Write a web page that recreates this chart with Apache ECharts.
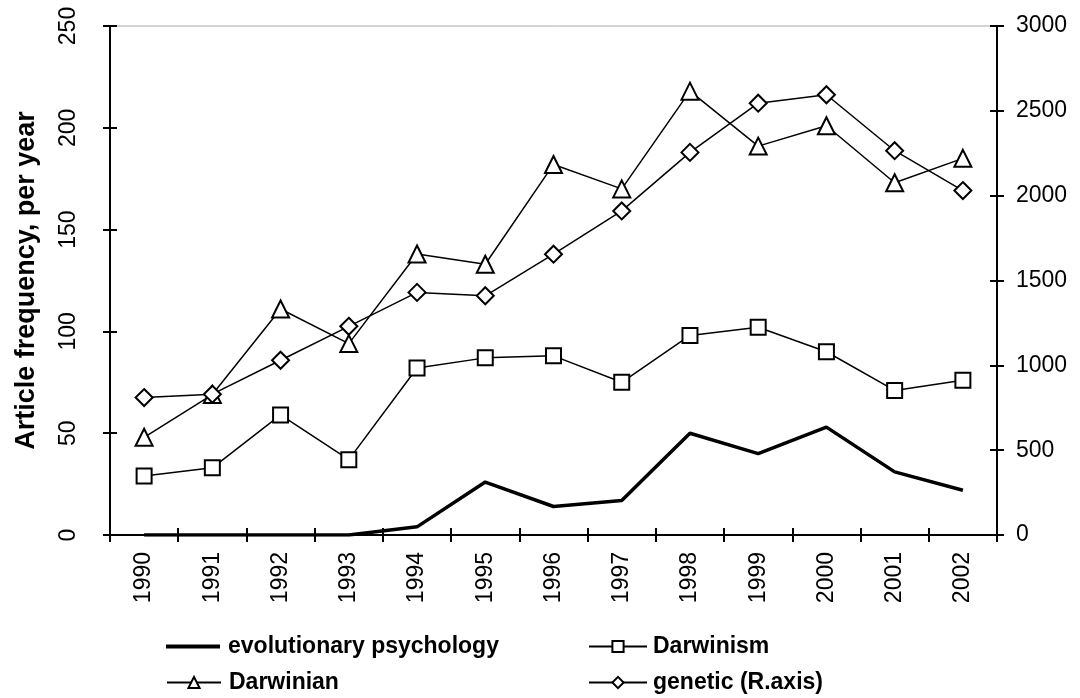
<!DOCTYPE html>
<html>
<head>
<meta charset="utf-8">
<script src="https://cdn.jsdelivr.net/npm/echarts@6/dist/echarts.min.js"></script>
<style>
html,body{margin:0;padding:0;background:#fff;}
#chart{width:1080px;height:698px;}
</style>
</head>
<body>
<div id="chart"></div>
<script>
const years = ['1990','1991','1992','1993','1994','1995','1996','1997','1998','1999','2000','2001','2002'];
const evoPsych = [0, 0, 0, 0, 4, 26, 14, 17, 50, 40, 53, 31, 22];
const darwinism = [29, 33, 59, 37, 82, 87, 88, 75, 98, 102, 90, 71, 76];
const darwinian = [48, 69, 111, 94, 138, 133, 182, 170, 218, 191, 201, 173, 185];
const genetic = [810, 830, 1030, 1230, 1430, 1410, 1655, 1910, 2255, 2545, 2595, 2265, 2030];
const leftTicks = [0, 50, 100, 150, 200, 250];
const rightTicks = [0, 500, 1000, 1500, 2000, 2500, 3000];

const FONT = '"Liberation Sans", Arial, sans-serif';
const LABEL_SIZE = 23;
const chart = echarts.init(document.getElementById('chart'), null, {renderer: 'canvas'});

const axisLine = {show: true, onZero: false, lineStyle: {color: '#000', width: 2}};
const tickOut = {show: true, length: 7, inside: false, lineStyle: {color: '#000', width: 2}};
const tickIn = {show: true, length: 7, inside: true, lineStyle: {color: '#000', width: 2}};

function markerSeries(name, data, symbol, size, yIdx) {
  return {
    name: name, type: 'line', data: data, yAxisIndex: yIdx,
    symbol: symbol, symbolSize: size, showSymbol: true,
    lineStyle: {color: '#000', width: 1.5},
    itemStyle: {color: '#fff', borderColor: '#000', borderWidth: 2},
    emphasis: {disabled: true}, z: 3
  };
}

const legendText = {fontFamily: FONT, fontSize: 23, fontWeight: 'bold', color: '#000'};

chart.setOption({
  backgroundColor: '#fff',
  animation: false,
  grid: {left: 110, right: 83, top: 26, bottom: 163, show: true, borderColor: '#aaa', borderWidth: 1, backgroundColor: 'transparent'},
  legend: [
    {data: ['evolutionary psychology'], left: 166, top: 635, padding: 0, itemWidth: 54, itemHeight: 4,
     textStyle: Object.assign({padding: [0, 0, 0, 3]}, legendText), icon: 'rect'},
    {data: ['Darwinism'], left: 588, top: 635, padding: 0, itemWidth: 58, itemHeight: 14,
     textStyle: Object.assign({padding: [0, 0, 0, 1]}, legendText)},
    {data: ['Darwinian'], left: 166, top: 671, padding: 0, itemWidth: 54, itemHeight: 14,
     textStyle: Object.assign({padding: [0, 0, 0, 3]}, legendText)},
    {data: ['genetic (R.axis)'], left: 588, top: 671, padding: 0, itemWidth: 58, itemHeight: 14,
     textStyle: Object.assign({padding: [0, 0, 0, 1]}, legendText)}
  ],
  xAxis: [
    {
      type: 'category', data: years, boundaryGap: true,
      axisLine: axisLine,
      axisTick: tickOut,
      axisLabel: {rotate: 90, fontFamily: FONT, fontSize: LABEL_SIZE, color: '#000', margin: 17, interval: 0},
      splitLine: {show: false}
    },
    {
      type: 'category', data: years, boundaryGap: true, position: 'bottom',
      axisLine: {show: false}, axisTick: tickIn, axisLabel: {show: false}, splitLine: {show: false}
    }
  ],
  yAxis: [
    {
      type: 'value', min: 0, max: 250, interval: 50, position: 'left',
      name: 'Article frequency, per year', nameLocation: 'middle', nameGap: 70, nameRotate: 90,
      nameTextStyle: {fontFamily: FONT, fontSize: 27, fontWeight: 'bold', color: '#000'},
      axisLine: axisLine, axisTick: tickOut,
      axisLabel: {fontFamily: FONT, fontSize: LABEL_SIZE, color: '#000', rotate: 90, margin: 30,
        formatter: v => leftTicks.includes(v) ? String(v) : ''},
      splitLine: {show: false}
    },
    {
      type: 'value', min: 0, max: 3000, interval: 500, position: 'right',
      axisLine: axisLine, axisTick: tickOut,
      axisLabel: {fontFamily: FONT, fontSize: LABEL_SIZE, color: '#000', margin: 19,
        formatter: v => rightTicks.includes(v) ? String(v) : ''},
      splitLine: {show: false}
    },
    {
      type: 'value', min: 0, max: 250, interval: 50, position: 'left',
      axisLine: {show: false}, axisTick: tickIn, axisLabel: {show: false}, splitLine: {show: false}
    },
    {
      type: 'value', min: 0, max: 3000, interval: 500, position: 'right',
      axisLine: {show: false}, axisTick: tickIn, axisLabel: {show: false}, splitLine: {show: false}
    }
  ],
  series: [
    {
      name: 'evolutionary psychology', type: 'line', data: evoPsych, yAxisIndex: 0,
      symbol: 'none', showSymbol: false,
      lineStyle: {color: '#000', width: 3.5}, itemStyle: {color: '#000'},
      emphasis: {disabled: true}, z: 2
    },
    markerSeries('Darwinism', darwinism, 'rect', 15, 0),
    markerSeries('Darwinian', darwinian, 'path://M0,-1 L1,1 L-1,1 Z', 17, 0),
    markerSeries('genetic (R.axis)', genetic, 'diamond', 17, 1)
  ]
});
</script>
</body>
</html>
